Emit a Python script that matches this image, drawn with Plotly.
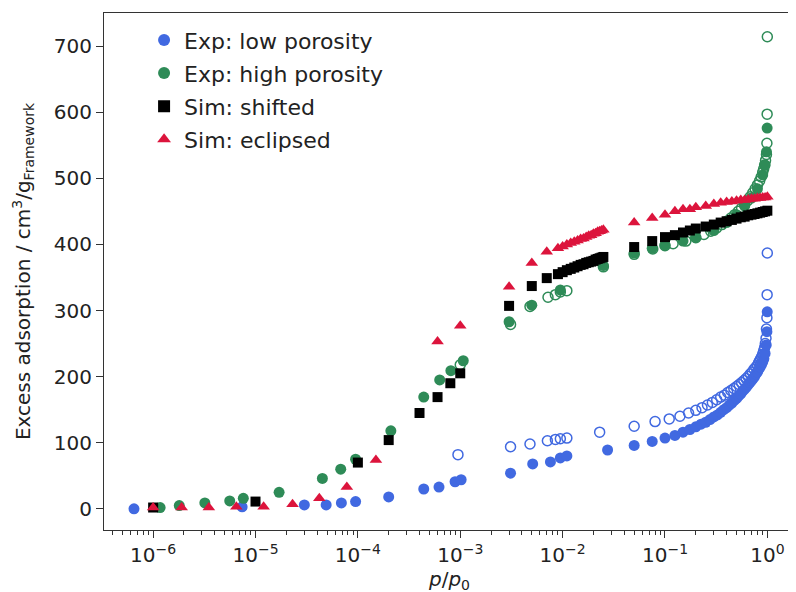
import plotly.graph_objects as go

# ---------------- data ----------------
# Exp: low porosity, adsorption (filled)
low_ads_p = [6.5e-7, 7.4e-6, 3.0e-5, 4.9e-5, 6.9e-5, 9.5e-5, 2.0e-4, 4.4e-4, 6.2e-4,
             8.9e-4, 1.02e-3, 3.1e-3, 5.1e-3, 7.6e-3, 9.5e-3, 1.1e-2, 2.75e-2,
             0.05, 0.075, 0.1, 0.125, 0.15, 0.175, 0.2, 0.225, 0.25, 0.275, 0.3, 0.325,
             0.35, 0.375, 0.4, 0.425, 0.45, 0.475, 0.5, 0.525, 0.55, 0.575, 0.6, 0.625,
             0.65, 0.675, 0.7, 0.725, 0.75, 0.775, 0.8, 0.825, 0.85, 0.875, 0.9, 0.925,
             0.95, 0.975, 0.99, 0.997]
low_ads_v = [0, 3, 6, 6, 9, 11, 18, 30, 33,
             41, 44, 54, 68, 71, 77, 80, 89,
             96, 102, 107, 111, 116, 120, 124, 128, 131, 135, 139, 142,
             146, 150, 153, 157, 160, 164, 167, 171, 174, 178, 181, 184,
             188, 191, 194, 197, 200, 204, 207, 211, 214, 218, 222, 227,
             235, 248, 268, 298]

# Exp: low porosity, desorption (open)
low_des_p = [0.999, 0.995, 0.99, 0.98, 0.97, 0.955, 0.94, 0.92, 0.9, 0.88, 0.86, 0.84,
             0.82, 0.8, 0.77, 0.74, 0.71, 0.68, 0.65, 0.62, 0.59, 0.56, 0.53, 0.5,
             0.47, 0.44, 0.41, 0.38, 0.35, 0.32, 0.29, 0.26, 0.23, 0.2, 0.17, 0.14,
             0.11, 0.08, 0.05, 0.023, 0.011, 0.0095, 0.0085, 0.0071, 0.0048, 0.0031,
             0.00095]
low_des_v = [387, 324, 289, 272, 258, 250, 244, 239, 234, 230, 227, 224,
             221, 217, 214, 211, 207, 204, 200, 197, 194, 191, 188, 185,
             182, 179, 176, 172, 169, 165, 161, 157, 153, 149, 145, 140,
             136, 132, 125, 116, 107, 106, 105, 103, 98, 94,
             82]

# Exp: high porosity, adsorption (filled)
high_ads_p = [1.17e-6, 1.8e-6, 3.2e-6, 5.6e-6, 7.6e-6, 1.7e-5, 4.5e-5, 6.8e-5, 9.5e-5,
              2.1e-4, 4.4e-4, 6.3e-4, 8.1e-4, 1.07e-3, 3.0e-3, 5.0e-3, 9.5e-3, 0.025,
              0.05, 0.075, 0.1, 0.15, 0.2, 0.3, 0.4, 0.5, 0.6, 0.7, 0.8, 0.9, 0.95,
              0.98, 0.995]
high_ads_v = [2, 5, 9, 12, 16, 25, 46, 60, 75,
              118, 169, 195, 209, 224, 283, 308, 331, 368,
              387, 394, 399, 405, 411, 421, 433, 445, 458, 470, 484, 505, 520,
              540, 576]

# Exp: high porosity, desorption (open)
high_des_p = [0.999, 0.995, 0.99, 0.98, 0.96, 0.94, 0.92, 0.9, 0.87, 0.84, 0.8, 0.76,
              0.72, 0.68, 0.64, 0.6, 0.56, 0.52, 0.48, 0.44, 0.4, 0.36, 0.32, 0.28,
              0.24, 0.2, 0.16, 0.12, 0.1, 0.076, 0.05, 0.025, 0.011, 0.0095, 0.0085,
              0.0072, 0.0048, 0.0031, 0.001]
high_des_v = [714, 597, 553, 536, 527, 520, 514, 509, 502, 496, 490, 484,
              478, 472, 466, 460, 455, 450, 445, 440, 435, 430, 425, 420,
              415, 410, 405, 401, 398, 393, 385, 366, 330, 328, 324,
              320, 306, 279, 218]

# Sim: shifted
shift_p = [1e-6, 1e-5, 1e-4, 2e-4, 4e-4, 6e-4, 8e-4, 1e-3, 3e-3, 5e-3, 7e-3,
           0.009, 0.010, 0.011, 0.012, 0.013, 0.014, 0.015, 0.016, 0.017, 0.018,
           0.019, 0.020, 0.021, 0.022, 0.023, 0.024, 0.025, 0.05,
           0.075, 0.1, 0.125, 0.15, 0.175, 0.2, 0.25, 0.3, 0.35, 0.4, 0.45, 0.5,
           0.55, 0.6, 0.65, 0.7, 0.75, 0.8, 0.85, 0.9, 0.95, 1.0]
shift_v = [2, 11, 70, 104, 145, 169, 190, 205, 307, 337, 349,
           355, 358, 361, 363, 365, 367, 369, 370, 372, 373,
           374, 375, 377, 378, 379, 380, 381, 396,
           405, 411, 414, 418, 421, 424, 427, 430, 433, 435, 437, 439,
           441, 442, 444, 445, 446, 447, 448, 449, 450, 451]

# Sim: eclipsed
ecl_p = [1e-6, 1.9e-6, 3.5e-6, 6.5e-6, 1.2e-5, 2.3e-5, 4.2e-5, 7.8e-5, 1.5e-4,
         6e-4, 1e-3, 3e-3, 5e-3, 7e-3,
         0.009, 0.010, 0.011, 0.012, 0.013, 0.014, 0.015, 0.016, 0.017, 0.018,
         0.019, 0.020, 0.021, 0.022, 0.023, 0.024, 0.025, 0.05,
         0.075, 0.1, 0.125, 0.15, 0.175, 0.2, 0.25, 0.3, 0.35, 0.4, 0.45, 0.5,
         0.55, 0.6, 0.65, 0.7, 0.75, 0.8, 0.85, 0.9, 0.95, 1.0]
ecl_v = [2, 2, 2, 3, 3, 7, 16, 33, 74,
         253, 277, 336, 372, 389,
         394, 397, 400, 402, 404, 406, 408, 409, 411, 413,
         414, 416, 417, 419, 420, 421, 422, 433,
         440, 445, 450, 453, 453, 456, 458, 461, 463, 464, 465, 466,
         467, 467, 468, 469, 469, 470, 470, 471, 471, 472]

x_tick_vals = [1e-6, 1e-5, 1e-4, 1e-3, 1e-2, 1e-1, 1]
x_tick_text = ["10<sup>−6</sup>", "10<sup>−5</sup>", "10<sup>−4</sup>", "10<sup>−3</sup>",
               "10<sup>−2</sup>", "10<sup>−1</sup>", "10<sup>0</sup>"]
y_tick_vals = [0, 100, 200, 300, 400, 500, 600, 700]

BLUE = "#4169E1"
GREEN = "#2E8B57"
BLACK = "#000000"
RED = "#DC143C"

fig = go.Figure()

fig.add_trace(go.Scatter(x=low_des_p, y=low_des_v, mode="markers", showlegend=False,
                         marker=dict(symbol="circle-open", size=10, color=BLUE,
                                     line=dict(width=1.5, color=BLUE))))
fig.add_trace(go.Scatter(x=high_des_p, y=high_des_v, mode="markers", showlegend=False,
                         marker=dict(symbol="circle-open", size=10, color=GREEN,
                                     line=dict(width=1.5, color=GREEN))))
fig.add_trace(go.Scatter(x=low_ads_p, y=low_ads_v, mode="markers", name="Exp: low porosity",
                         legendgroup="a", marker=dict(symbol="circle", size=11, color=BLUE)))
fig.add_trace(go.Scatter(x=high_ads_p, y=high_ads_v, mode="markers", name="Exp: high porosity",
                         legendgroup="b", marker=dict(symbol="circle", size=11, color=GREEN)))
fig.add_trace(go.Scatter(x=shift_p, y=shift_v, mode="markers", name="Sim: shifted",
                         legendgroup="c", marker=dict(symbol="square", size=10, color=BLACK)))
fig.add_trace(go.Scatter(x=ecl_p, y=ecl_v, mode="markers", name="Sim: eclipsed",
                         legendgroup="d", marker=dict(symbol="triangle-up", size=11, color=RED)))

minor_vals = [k * 10.0 ** e for e in range(-7, 1) for k in range(2, 10)]

axis_color = "#333333"
text_color = "#222222"
fig.update_xaxes(type="log", range=[-6.48, 0.27], automargin=False,
                 tickvals=x_tick_vals, ticktext=x_tick_text,
                 ticks="outside", ticklen=7, tickwidth=1, tickcolor=axis_color,
                 minor=dict(tickvals=minor_vals, ticks="outside", ticklen=4,
                            tickwidth=1, tickcolor=axis_color, showgrid=False),
                 showline=True, linecolor=axis_color, linewidth=1.2, mirror=True,
                 showgrid=False, zeroline=False,
                 tickfont=dict(size=20, color=text_color),
                 title=dict(text="<i>p</i>/<i>p</i><sub>0</sub>",
                            font=dict(size=20, color=text_color), standoff=2))
fig.update_yaxes(range=[-32, 750], tickvals=y_tick_vals, automargin=False,
                 ticks="outside", ticklen=7, tickwidth=1, tickcolor=axis_color,
                 showline=True, linecolor=axis_color, linewidth=1.2, mirror=True,
                 showgrid=False, zeroline=False,
                 tickfont=dict(size=20, color=text_color),
                 title=dict(text="Excess adsorption / cm<sup>3</sup>/g<sub>Framework</sub>",
                            font=dict(size=20, color=text_color), standoff=17))

# the page body adds an 8px offset, margins compensate for it
fig.update_layout(
    width=796, height=592,
    margin=dict(l=96, r=9, t=5, b=70),
    paper_bgcolor="white", plot_bgcolor="white",
    font=dict(family="DejaVu Sans", size=20, color=text_color),
    legend=dict(x=0.058, y=0.988, xanchor="left", yanchor="top",
                bgcolor="rgba(255,255,255,0)", font=dict(size=22, color=text_color),
                tracegroupgap=1.5, itemsizing="constant"),
)

fig.write_html("out.html")
